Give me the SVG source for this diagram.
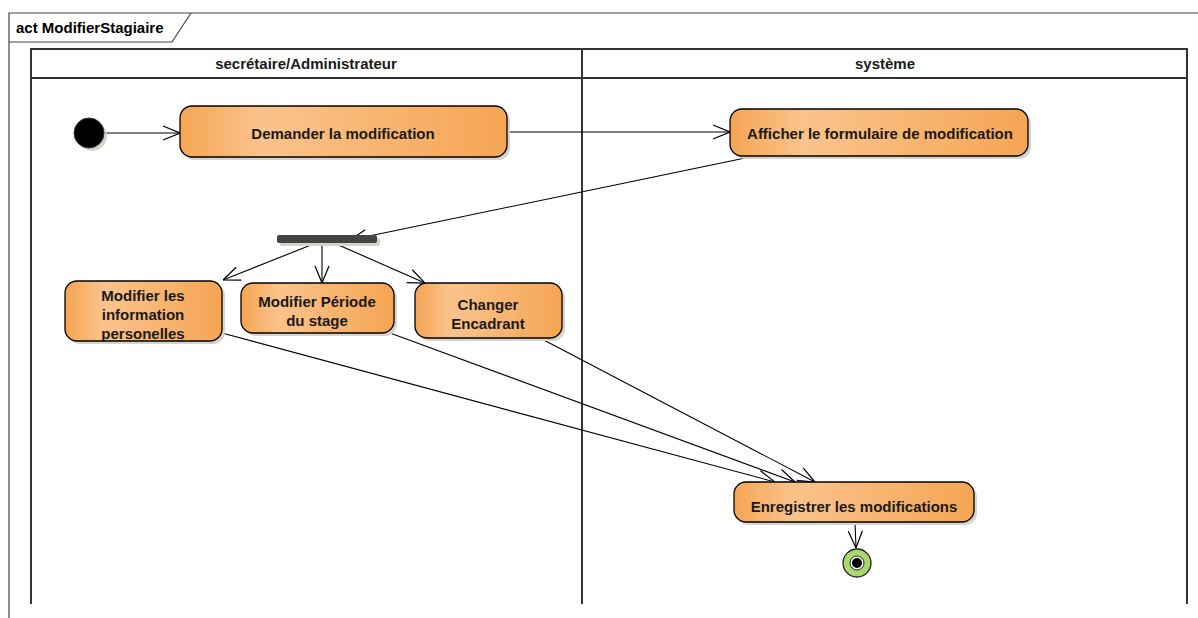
<svg xmlns="http://www.w3.org/2000/svg" width="1198" height="618" viewBox="0 0 1198 618">
<defs>
<linearGradient id="og" x1="0" y1="0" x2="1" y2="0">
<stop offset="0" stop-color="#F5A553"/>
<stop offset="0.25" stop-color="#FAC38C"/>
<stop offset="1" stop-color="#F5A553"/>
</linearGradient>
<marker id="arr" viewBox="0 0 20 20" refX="20" refY="10" markerWidth="20" markerHeight="20" markerUnits="userSpaceOnUse" orient="auto">
<path d="M3,3 L20,10 L3,17" fill="none" stroke="#000" stroke-width="1.2"/>
</marker>
<style>
.t{font-family:"Liberation Sans",Arial,sans-serif;font-weight:bold;font-size:15px;fill:#1a1a1a;text-anchor:middle}
.act{fill:url(#og);stroke:#000;stroke-width:1.3}
.sh{fill:#d6d2cc}
.c{fill:none;stroke:#000;stroke-width:1.1;marker-end:url(#arr)}
.ln{fill:none;stroke:#333;stroke-width:2}
</style>
</defs>
<rect width="1198" height="618" fill="#fff"/>
<g id="frame">
<path d="M9,618 L9,13 L1198,13" fill="none" stroke="#444" stroke-width="1.2"/>
<path d="M9,42 L172,42 L191,13" fill="none" stroke="#444" stroke-width="1.2"/>
<text x="16" y="33" style="font-family:'Liberation Sans',Arial,sans-serif;font-weight:bold;font-size:15px;fill:#000">act ModifierStagiaire</text>
</g>
<g id="lanes">
<path class="ln" d="M31,604 L31,49 L1187,49 L1187,604 M31,78 L1187,78 M582,49 L582,604"/>
<text class="t" x="306" y="69">secrétaire/Administrateur</text>
<text class="t" x="885" y="69">système</text>
</g>
<g id="connectors">
<path class="c" d="M104,133 L180,133"/>
<path class="c" d="M507,132 L730,132"/>
<path class="c" d="M750,157 L350,240"/>
<path class="c" d="M316,243 L223,280"/>
<path class="c" d="M322,243 L322,283"/>
<path class="c" d="M334,243 L425,283"/>
<path class="c" d="M222,333 L775,482"/>
<path class="c" d="M390,333 L795,482"/>
<path class="c" d="M540,338 L815,482"/>
<path class="c" d="M855,522 L856,548"/>
</g>
<g id="initial">
<circle cx="92" cy="136" r="15" class="sh"/>
<circle cx="89" cy="133" r="15" fill="#000" stroke="#333" stroke-width="1"/>
</g>
<g id="demander">
<rect x="183" y="109" width="327" height="51" rx="12" class="sh"/>
<rect x="180" y="106" width="327" height="51" rx="12" class="act"/>
<text class="t" x="343" y="139">Demander la modification</text>
</g>
<g id="afficher">
<rect x="733" y="112" width="298" height="47" rx="12" class="sh"/>
<rect x="730" y="109" width="298" height="47" rx="12" class="act"/>
<text class="t" x="880" y="139">Afficher le formulaire de modification</text>
</g>
<g id="fork">
<rect x="280" y="238" width="100" height="8" rx="2" class="sh"/>
<rect x="277" y="235" width="100" height="8" rx="2" fill="#444"/>
</g>
<g id="modifInfo">
<rect x="68" y="284" width="157" height="60" rx="12" class="sh"/>
<rect x="65" y="281" width="157" height="60" rx="12" class="act"/>
<text class="t" x="143" y="301">Modifier les</text>
<text class="t" x="143" y="320">information</text>
<text class="t" x="143" y="339">personelles</text>
</g>
<g id="modifPeriode">
<rect x="244" y="286" width="153" height="50" rx="12" class="sh"/>
<rect x="241" y="283" width="153" height="50" rx="12" class="act"/>
<text class="t" x="317" y="307">Modifier Période</text>
<text class="t" x="317" y="326">du stage</text>
</g>
<g id="changer">
<rect x="418" y="286" width="147" height="55" rx="12" class="sh"/>
<rect x="415" y="283" width="147" height="55" rx="12" class="act"/>
<text class="t" x="488" y="310">Changer</text>
<text class="t" x="488" y="329">Encadrant</text>
</g>
<g id="enregistrer">
<rect x="737" y="485" width="240" height="40" rx="12" class="sh"/>
<rect x="734" y="482" width="240" height="40" rx="12" class="act"/>
<text class="t" x="854" y="512">Enregistrer les modifications</text>
</g>
<g id="final">
<circle cx="857" cy="563" r="14" fill="#A8D86E" stroke="#222" stroke-width="1.3"/>
<circle cx="857" cy="563" r="7" fill="#fff" stroke="#222" stroke-width="1"/>
<circle cx="857" cy="563" r="5" fill="#000"/>
</g>
</svg>
